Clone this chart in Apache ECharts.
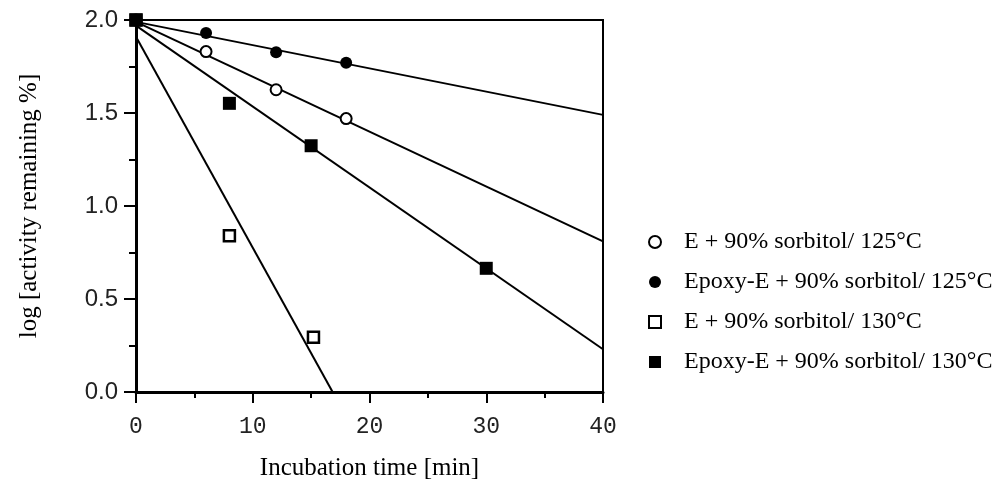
<!DOCTYPE html>
<html>
<head>
<meta charset="utf-8">
<script src="https://cdn.jsdelivr.net/npm/echarts@6/dist/echarts.min.js"></script>
<style>html,body{margin:0;padding:0;background:#fff}#c{width:994px;height:488px}</style>
</head>
<body>
<div id="c"></div>
<script>
const seriesNames = ['E + 90% sorbitol/ 125°C','Epoxy-E + 90% sorbitol/ 125°C','E + 90% sorbitol/ 130°C','Epoxy-E + 90% sorbitol/ 130°C'];
const e125 = [[0,2.0],[6,1.83],[12,1.625],[18,1.47]];
const epoxy125 = [[0,2.0],[6,1.93],[12,1.826],[18,1.77]];
const e130 = [[0,2.0],[8,0.84],[15.2,0.295]];
const epoxy130 = [[0,2.0],[8,1.552],[15,1.324],[30,0.665]];
const fitE125 = [[0,1.99],[40,0.81]];
const fitEpoxy125 = [[0,1.99],[40,1.49]];
const fitE130 = [[0,1.91],[16.84,0]];
const fitEpoxy130 = [[0,1.97],[40,0.23]];
const xTicks = [0,10,20,30,40];
const yTicks = [0,0.5,1.0,1.5,2.0];

const chart = echarts.init(document.getElementById('c'));
const lineStyle = {color:'#000', width:2};
function fit(data){ return {type:'line', data, symbol:'none', silent:true, lineStyle, z:2, animation:false}; }
chart.setOption({
  animation:false,
  grid:{left:136, right:391, top:20, bottom:96, show:true, borderColor:'#000', borderWidth:2,
        containLabel:false, outerBoundsMode:'none'},
  legend:{
    orient:'vertical', left:643, top:225, itemGap:16, itemWidth:12, itemHeight:12,
    data:seriesNames,
    textStyle:{fontFamily:'Liberation Serif', fontSize:24, color:'#000', padding:[0,0,0,18]}
  },
  xAxis:{
    type:'value', min:xTicks[0], max:xTicks[xTicks.length-1], interval:10,
    name:'Incubation time [min]', nameLocation:'middle', nameGap:64,
    nameTextStyle:{fontFamily:'Liberation Serif', fontSize:25, color:'#000'},
    axisLine:{lineStyle:{color:'#000', width:3}},
    axisTick:{inside:false, length:11, lineStyle:{width:2, color:'#000'}},
    minorTick:{show:true, splitNumber:2, length:6, lineStyle:{width:2, color:'#000'}},
    splitLine:{show:false},
    axisLabel:{fontFamily:'Liberation Mono', fontSize:23, color:'#222', margin:23}
  },
  yAxis:{
    type:'value', min:yTicks[0], max:yTicks[yTicks.length-1], interval:0.5,
    name:'log [activity remaining %]', nameLocation:'middle', nameGap:94,
    nameTextStyle:{fontFamily:'Liberation Serif', fontSize:25, color:'#000'},
    axisLine:{lineStyle:{color:'#000', width:3}},
    axisTick:{inside:false, length:12, lineStyle:{width:2, color:'#000'}},
    minorTick:{show:true, splitNumber:2, length:7, lineStyle:{width:2, color:'#000'}},
    splitLine:{show:false},
    axisLabel:{fontFamily:'Liberation Sans', fontSize:24, color:'#222', margin:18, formatter:v=>v.toFixed(1)}
  },
  series:[
    fit(fitE125), fit(fitEpoxy125), fit(fitE130), fit(fitEpoxy130),
    {type:'scatter', name:seriesNames[0], data:e125, symbol:'circle', symbolSize:11, z:5,
     itemStyle:{color:'#fff', borderColor:'#000', borderWidth:2, opacity:1}},
    {type:'scatter', name:seriesNames[1], data:epoxy125, symbol:'circle', symbolSize:12, z:5,
     itemStyle:{color:'#000', borderColor:'#000', borderWidth:0, opacity:1}},
    {type:'scatter', name:seriesNames[2], data:e130, symbol:'rect', symbolSize:11, z:5,
     itemStyle:{color:'#fff', borderColor:'#000', borderWidth:2.5, opacity:1}},
    {type:'scatter', name:seriesNames[3], data:epoxy130, symbol:'rect', symbolSize:13, z:6,
     itemStyle:{color:'#000', borderColor:'#000', borderWidth:0, opacity:1}}
  ]
});
</script>
</body>
</html>
